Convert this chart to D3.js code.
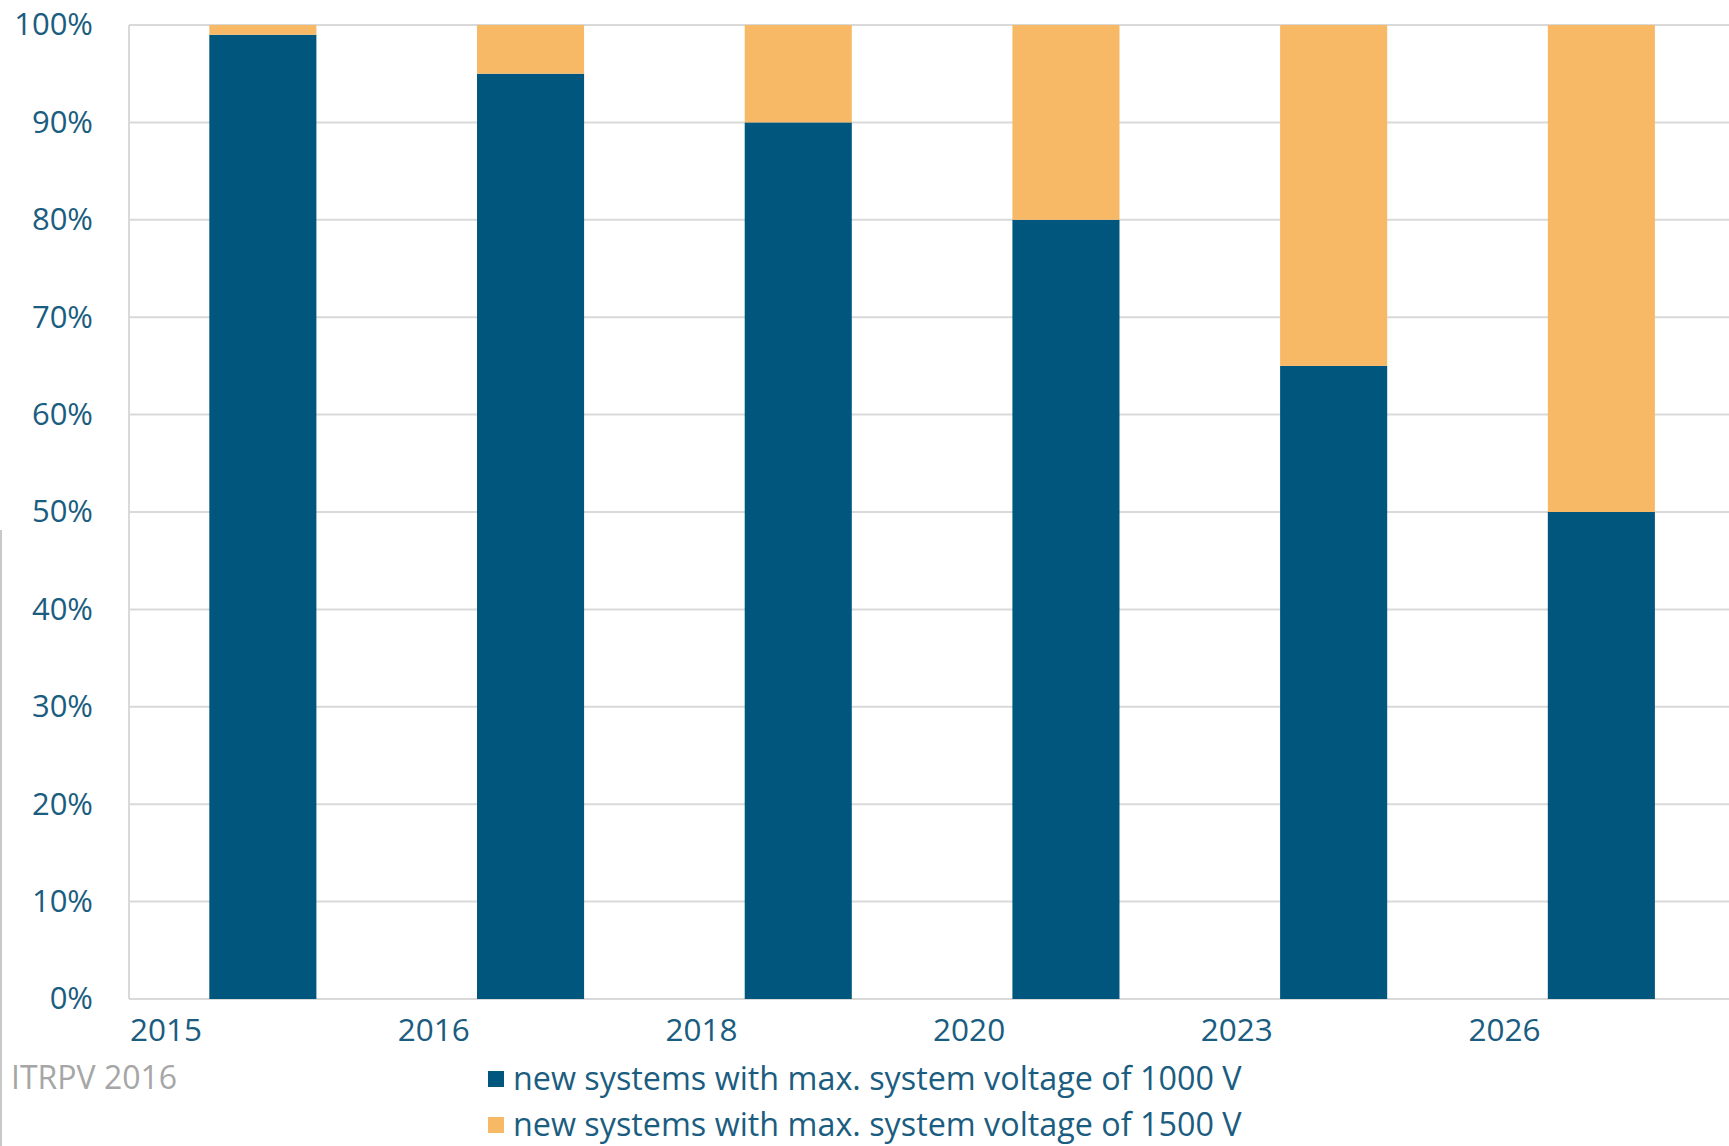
<!DOCTYPE html>
<html>
<head>
<meta charset="utf-8">
<script src="https://cdn.jsdelivr.net/npm/d3@7"></script>
<style>
  html, body { margin: 0; padding: 0; background: #fff; }
  svg { display: block; font-family: "Open Sans", sans-serif; }
</style>
</head>
<body>
<svg width="1729" height="1146"></svg>
<script>
// data
const years = ['2015', '2016', '2018', '2020', '2023', '2026'];
const share1000 = [99, 95, 90, 80, 65, 50];
const share1500 = [1, 5, 10, 20, 35, 50];
const seriesNames = ['new systems with max. system voltage of 1000 V', 'new systems with max. system voltage of 1500 V'];
const seriesColors = ['#00567c', '#f8b966'];
const yTicks = [0, 10, 20, 30, 40, 50, 60, 70, 80, 90, 100];

const textCol = '#1b5d80';
const svg = d3.select('svg');
const W = +svg.attr('width');

const plotLeft = 129, plotTop = 25, plotBottom = 999;
const step = 267.7;

const x = d3.scaleBand()
            .domain(years)
            .range([plotLeft, plotLeft + step * years.length])
            .paddingInner(0.6)
            .paddingOuter(0.3);
const y = d3.scaleLinear().domain([0, 100]).range([plotBottom, plotTop]);

// grid
svg.append('g')
   .selectAll('line')
   .data(yTicks)
   .join('line')
   .attr('x1', plotLeft).attr('x2', W)
   .attr('y1', d => y(d)).attr('y2', d => y(d))
   .attr('stroke', '#d9d9d9')
   .attr('stroke-width', 2);
svg.append('line')
   .attr('x1', plotLeft).attr('x2', plotLeft)
   .attr('y1', plotTop).attr('y2', plotBottom)
   .attr('stroke', '#d9d9d9').attr('stroke-width', 2);

// stacked bars
const rows = years.map((yr, i) => ({ year: yr, a: share1000[i], b: share1500[i] }));
const stack = d3.stack().keys(['a', 'b'])(rows);
svg.append('g')
   .selectAll('g')
   .data(stack)
   .join('g')
   .attr('fill', (d, i) => seriesColors[i])
   .selectAll('rect')
   .data(d => d)
   .join('rect')
   .attr('x', d => x(d.data.year))
   .attr('width', x.bandwidth())
   .attr('y', d => y(d[1]))
   .attr('height', d => y(d[0]) - y(d[1]));

// y axis
const yAx = svg.append('g')
   .attr('transform', `translate(${plotLeft},0)`)
   .call(d3.axisLeft(y).tickValues(yTicks).tickFormat(d => d + '%').tickSize(0).tickPadding(36));
yAx.select('.domain').remove();
yAx.selectAll('text')
   .attr('fill', textCol)
   .style('font-size', '31px')
   .style('font-family', '"Open Sans", sans-serif');

// x labels, left aligned at band start
const gap = (x.step() - x.bandwidth()) / 2;
svg.append('g')
   .selectAll('text')
   .data(years)
   .join('text')
   .attr('x', d => x(d) - gap + 1)
   .attr('y', 1041)
   .attr('fill', textCol)
   .style('font-size', '31.5px')
   .text(d => d);

// source note
svg.append('text')
   .attr('x', 11).attr('y', 1089)
   .attr('fill', '#a6a6a6')
   .style('font-size', '32px')
   .text('ITRPV 2016');

// left edge line
svg.append('line')
   .attr('x1', 1).attr('x2', 1)
   .attr('y1', 530).attr('y2', 1146)
   .attr('stroke', '#c8c8c8').attr('stroke-width', 2);

// legend
const leg = svg.append('g')
   .selectAll('g')
   .data(seriesNames)
   .join('g')
   .attr('transform', (d, i) => `translate(488,${1079 + i * 46})`);
leg.append('rect')
   .attr('y', -8).attr('width', 16).attr('height', 16)
   .attr('fill', (d, i) => seriesColors[i]);
leg.append('text')
   .attr('x', 25).attr('y', 11)
   .attr('fill', textCol)
   .style('font-size', '32.3px')
   .text(d => d);
</script>
</body>
</html>
